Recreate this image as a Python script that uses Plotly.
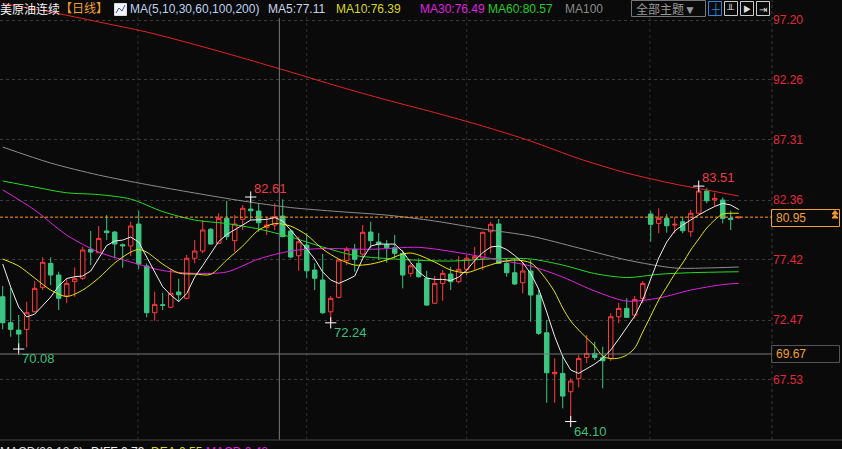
import plotly.graph_objects as go

# ---------------- data ----------------
opens = [74.39,72.25,71.64,71.70,73.15,75.16,77.14,76.18,74.45,75.63,
         75.91,78.30,78.02,79.81,79.72,78.68,78.57,80.38,76.92,73.07,
         73.73,73.52,74.78,74.26,77.56,78.16,79.95,78.79,80.85,79.01,
         80.77,81.62,81.45,80.11,80.30,81.04,79.81,77.77,78.65,76.59,
         75.77,73.15,74.34,77.36,78.30,77.91,79.72,78.90,78.68,78.43,
         77.97,76.32,77.14,75.91,73.85,75.49,76.26,75.63,76.65,77.50,
         77.56,79.75,80.38,77.14,76.37,75.54,76.51,74.53,71.42,68.04,
         68.07,66.56,67.66,69.39,69.72,69.36,69.31,72.74,73.43,72.88,
         74.26,81.21,80.44,80.85,80.30,80.57,79.75,81.27,83.10,82.36,
         82.36,80.85,80.90]
highs = [75.27,75.11,72.88,73.98,75.68,77.64,77.64,76.45,75.91,76.81,
         78.51,79.81,80.22,81.12,79.81,78.79,80.57,81.48,77.14,74.80,
         74.72,76.65,75.87,77.83,79.06,80.71,80.05,81.27,82.30,81.12,
         81.95,82.61,82.09,80.98,82.09,82.42,79.97,79.34,79.62,77.14,
         77.91,74.45,77.47,78.51,78.73,80.30,80.57,79.64,79.06,79.48,
         78.24,77.14,77.56,76.53,76.10,76.59,76.86,77.74,77.83,78.51,
         79.75,80.57,80.80,77.56,77.58,77.27,77.42,74.94,72.47,69.31,
         69.58,67.66,69.58,71.23,70.68,70.27,73.02,73.89,74.26,74.45,
         75.68,81.48,81.68,81.21,80.98,80.98,81.54,83.51,83.33,82.96,
         82.58,81.48,81.00]
lows = [71.70,71.09,70.08,70.22,73.10,74.94,75.35,73.29,73.85,74.39,
        75.77,77.00,77.97,79.06,77.56,76.78,77.74,76.65,72.69,72.41,
        73.29,73.45,73.95,74.17,77.14,77.97,78.70,78.73,79.06,78.10,
        79.89,80.71,79.75,79.48,79.89,79.30,77.56,76.53,75.91,74.94,
        72.96,72.24,74.26,77.00,76.45,77.56,78.38,77.42,77.19,77.56,
        75.08,76.04,75.95,73.66,73.80,74.06,74.94,75.49,76.18,76.59,
        76.59,77.97,77.10,76.04,75.35,74.67,72.33,71.23,65.65,65.65,
        65.19,64.10,66.92,68.90,69.17,66.84,69.10,72.20,72.65,72.61,
        73.85,78.92,79.62,79.67,79.62,79.62,79.34,81.20,82.09,81.87,
        80.44,79.89,80.85]
closes = [72.25,71.70,71.31,73.07,75.08,77.23,76.18,74.26,75.49,75.87,
          78.24,78.07,79.20,79.67,78.73,78.59,80.22,77.09,73.07,73.76,
          73.68,74.67,74.55,77.56,78.16,79.89,78.73,80.85,79.34,80.38,
          81.68,81.48,80.49,80.30,80.98,79.34,77.66,78.92,76.53,75.91,
          73.07,74.26,77.42,78.30,77.47,79.70,79.01,78.73,78.43,77.97,
          76.18,76.94,76.04,73.70,75.49,76.32,75.63,76.65,77.56,77.69,
          79.70,80.36,77.14,76.37,75.44,76.51,74.53,71.37,68.12,68.16,
          66.20,67.44,69.31,69.72,69.39,69.11,72.74,73.43,72.69,74.17,
          75.49,80.36,80.85,80.24,80.36,79.83,81.27,83.10,82.30,82.50,
          80.85,80.77,80.95]

ma5 = [77.09,75.19,73.54,72.72,72.96,73.62,74.36,75.27,75.89,76.04,
       76.10,76.51,77.58,78.61,78.98,79.06,79.31,78.90,77.66,76.43,
       75.21,74.53,73.99,74.65,76.01,76.96,77.99,78.94,79.52,79.89,
       80.30,80.71,80.74,80.76,80.92,80.63,79.89,79.15,78.32,77.50,
       76.43,75.77,75.49,75.77,76.10,77.54,78.57,78.73,78.73,78.73,
       78.12,77.21,76.43,75.93,75.82,75.82,75.73,76.01,76.59,77.37,
       78.02,78.49,78.57,78.28,77.79,77.21,76.30,75.02,73.13,71.11,
       69.46,68.35,68.07,68.43,68.84,69.34,70.00,70.90,71.85,72.80,
       74.12,75.93,77.58,78.90,79.81,80.30,80.75,81.13,81.50,81.83,
       82.09,81.95,81.58]

ma10_x = [0,2,4,6,8,10,12,14,16,17,18,20,22,24,26,28,30,32,34,36,38,40,42,44,46,48,
          50,51,52,54,56,58,60,62,64,66,67,68,69,70,71,72,73,74,75,76,77,78,79,80,
          81,82,83,84,85,86,87,88,89,90,91,92]
ma10 = [77.50,76.92,75.93,74.94,74.41,74.94,75.93,77.17,78.07,78.28,78.07,77.08,76.34,
        76.26,76.23,77.42,78.57,79.89,80.42,80.21,79.48,78.32,77.50,77.00,77.08,77.42,
        77.91,77.99,77.83,77.25,76.59,76.38,76.80,77.21,77.42,77.19,76.59,75.77,74.78,
        73.46,72.39,71.64,70.98,70.33,69.50,69.29,69.33,69.58,70.16,71.48,72.80,74.12,
        75.19,76.26,77.17,78.24,79.15,80.05,80.71,81.21,81.27,81.27]

ma30_x = [0,4,8,12,16,20,24,28,32,36,40,46,52,58,62,66,70,74,78,82,86,90,92]
ma30 = [83.19,81.54,79.47,78.07,77.25,76.55,76.32,76.43,77.50,78.16,78.36,78.30,
        78.46,77.91,77.42,76.92,76.01,74.86,74.03,74.28,74.94,75.39,75.49]

ma60_x = [0,4,8,12,16,20,24,28,32,36,40,44,50,56,62,66,70,74,78,82,86,92]
ma60 = [83.93,83.43,82.96,82.81,82.44,81.41,80.71,80.42,79.97,79.31,78.49,77.79,
        77.46,77.33,77.54,77.50,77.00,76.30,75.97,76.24,76.37,76.45]

ma100_x = [0,6,12,18,24,30,36,42,48,54,60,66,72,78,84,88,92]
ma100 = [86.73,85.41,84.42,83.64,82.94,82.28,81.74,81.41,81.12,80.63,79.97,79.39,
         78.41,77.42,76.76,76.76,76.84]

ma200_x = [0,6,12,18,24,30,36,42,48,54,60,66,72,78,84,88,92]
ma200 = [98.56,97.86,97.04,96.21,95.18,94.07,92.91,91.72,90.61,89.57,88.46,87.22,
         85.78,84.59,83.68,83.19,82.69]

axis_ticks = [97.20, 92.26, 87.31, 82.36, 77.42, 72.47, 67.53]
axis_ticktext = ["97.20", "92.26", "87.31", "82.36", "77.42", "72.47", "67.53"]

hi_idx = [31, 87]
hi_val = [82.61, 83.51]
lo_idx = [2, 41, 71]
lo_val = [70.08, 72.24, 64.10]

month_sep = [16.9, 38.0, 58.0, 80.9]
cross_idx = 34.58
cross_price = 69.67
last_price = closes[-1]

# ---------------- styles ----------------
BG = "#0a0a0a"
RED = "#ff3b3b"
GREEN = "#3cc682"
FONT = "Liberation Sans, Noto Sans CJK SC, sans-serif"
PLOT_W = 772.0
PLOT_H = 440.0

def px(x):
    return x / PLOT_W

def py(y):
    return (PLOT_H - y) / PLOT_H

idx = list(range(len(opens)))

fig = go.Figure()
fig.add_trace(go.Candlestick(
    x=idx, open=opens, high=highs, low=lows, close=closes,
    increasing=dict(line=dict(color=RED, width=1), fillcolor=BG),
    decreasing=dict(line=dict(color=GREEN, width=1), fillcolor=GREEN),
    whiskerwidth=0, hoverinfo="skip", showlegend=False))

def ma_line(xs, ys, color, shape="spline"):
    fig.add_trace(go.Scatter(x=xs, y=ys, mode="lines",
                             line=dict(color=color, width=1, shape=shape, smoothing=0.8),
                             hoverinfo="skip", showlegend=False))

ma_line(ma200_x, ma200, "#e62222")
ma_line(ma100_x, ma100, "#8c8c8c")
ma_line(ma60_x, ma60, "#22dd22")
ma_line(ma30_x, ma30, "#e020e0")
ma_line(ma10_x, ma10, "#e6e600")
ma_line(idx, ma5, "#eeeeee", shape="linear")

# extreme markers
fig.add_trace(go.Scatter(x=hi_idx + lo_idx, y=hi_val + lo_val, mode="markers",
                         marker=dict(symbol="cross-thin", size=8,
                                     line=dict(color="#ffffff", width=1)),
                         hoverinfo="skip", showlegend=False))

annotations = []
for i, v in zip(hi_idx, hi_val):
    annotations.append(dict(x=i, y=v, xref="x", yref="y", text=f"{v:.2f}",
                            showarrow=False, xanchor="left", yanchor="bottom",
                            xshift=1, yshift=-1,
                            font=dict(family=FONT, size=13, color="#f03a48")))
for i, v in zip(lo_idx, lo_val):
    annotations.append(dict(x=i, y=v, xref="x", yref="y", text=f"{v:.2f}",
                            showarrow=False, xanchor="left", yanchor="top",
                            xshift=1, yshift=0,
                            font=dict(family=FONT, size=13, color="#3cbf7e")))

def txt(x, y, s, color, size=12, anchor="left"):
    annotations.append(dict(x=px(x), y=py(y), xref="paper", yref="paper", text=s,
                            showarrow=False, xanchor=anchor, yanchor="middle",
                            font=dict(family=FONT, size=size, color=color)))

# header
txt(-2, 9, "美原油连续", "#f2f2f2")
txt(58, 9, "【日线】", "#f0a030")
txt(128, 9, "MA(5,10,30,60,100,200)", "#bcd2f0")
txt(266, 9, "MA5:77.11", "#c8d4e8")
txt(334, 9, "MA10:76.39", "#d8d820")
txt(418, 9, "MA30:76.49", "#e020e0")
txt(486, 9, "MA60:80.57", "#22cc22")
txt(563, 9, "MA100", "#8a8a8a")
txt(634, 9, "全部主题▼", "#9a9a9a")
txt(715, 9, "┼", "#2a88e0", size=11, anchor="center")
txt(730.5, 9, "╨", "#dddddd", size=10, anchor="center")
txt(746.5, 9, "▶", "#dddddd", size=8, anchor="center")
txt(763, 9, "⇥", "#dddddd", size=10, anchor="center")

# bottom (MACD header, cut off by the window edge as in the reference)
txt(-2, 452, "MACD(26,12,9)", "#dddddd")
txt(89, 452, "DIFF:0.79", "#eeeeee")
txt(149, 452, "DEA:0.55", "#d8d820")
txt(204, 452, "MACD:0.48", "#e020e0")

# price boxes
txt(774, 218, f"{last_price:.2f}", "#f0a030")
txt(774, 354, f"{cross_price:.2f}", "#f0a030")

shapes = []
for m in month_sep:
    shapes.append(dict(type="line", xref="x", yref="paper", x0=m, x1=m, y0=0, y1=1,
                       line=dict(color="#2e2e2e", width=1, dash="dot"), layer="below"))
shapes += [
    dict(type="line", xref="paper", yref="y", x0=0, x1=1, y0=last_price, y1=last_price,
         line=dict(color="#ff9a1a", width=1, dash="3px,2px"), layer="above"),
    dict(type="line", xref="paper", yref="y", x0=0, x1=1, y0=cross_price, y1=cross_price,
         line=dict(color="#7a7a7a", width=1), layer="above"),
    dict(type="line", xref="x", yref="paper", x0=cross_idx, x1=cross_idx, y0=0, y1=py(18),
         line=dict(color="#7a7a7a", width=1), layer="above"),
    dict(type="line", xref="paper", yref="paper", x0=0, x1=842 / PLOT_W, y0=0, y1=0,
         line=dict(color="#444444", width=1)),
    dict(type="line", xref="paper", yref="paper", x0=1, x1=1, y0=0, y1=1,
         line=dict(color="#3a3a3a", width=1, dash="dot")),
    dict(type="rect", xref="paper", yref="paper", x0=px(771.5), x1=px(839.5),
         y0=py(226.5), y1=py(209.5), line=dict(color="#f0a030", width=1), fillcolor="rgba(0,0,0,0)"),
    dict(type="rect", xref="paper", yref="paper", x0=px(771.5), x1=px(839.5),
         y0=py(362.5), y1=py(345.5), line=dict(color="#555555", width=1), fillcolor="rgba(0,0,0,0)"),
    # double up-arrow marker on the price box
    dict(type="path", xref="paper", yref="paper",
         path=f"M {px(832)} {py(214)} L {px(835)} {py(210.5)} L {px(838)} {py(214)} Z",
         line=dict(color="#f0a030", width=1), fillcolor="#f0a030"),
    dict(type="path", xref="paper", yref="paper",
         path=f"M {px(832)} {py(218)} L {px(835)} {py(214.5)} L {px(838)} {py(218)} Z",
         line=dict(color="#f0a030", width=1), fillcolor="#f0a030"),
    dict(type="rect", xref="paper", yref="paper", x0=px(631.5), x1=px(705.5),
         y0=py(16.5), y1=py(0.5), line=dict(color="#777777", width=1), fillcolor=BG),
    dict(type="rect", xref="paper", yref="paper", x0=px(708.5), x1=px(721.5),
         y0=py(15.5), y1=py(1.5), line=dict(color="#2a88e0", width=1), fillcolor=BG),
    dict(type="rect", xref="paper", yref="paper", x0=px(724.5), x1=px(737.5),
         y0=py(15.5), y1=py(1.5), line=dict(color="#cccccc", width=1), fillcolor=BG),
    dict(type="rect", xref="paper", yref="paper", x0=px(740.5), x1=px(753.5),
         y0=py(15.5), y1=py(1.5), line=dict(color="#cccccc", width=1), fillcolor=BG),
    dict(type="rect", xref="paper", yref="paper", x0=px(756.5), x1=px(769.5),
         y0=py(15.5), y1=py(1.5), line=dict(color="#cccccc", width=1), fillcolor=BG),
    dict(type="rect", xref="paper", yref="paper", x0=px(114.5), x1=px(126.5),
         y0=py(15.5), y1=py(3.5), line=dict(color="#dddddd", width=1), fillcolor="#f4f4ff"),
    dict(type="path", xref="paper", yref="paper",
         path=f"M {px(116)} {py(13)} L {px(119)} {py(8)} L {px(122)} {py(11)} L {px(125)} {py(5)}",
         line=dict(color="#3050d0", width=1)),
]

fig.update_layout(
    width=842, height=449, autosize=False,
    margin=dict(l=0, r=70, t=0, b=9, pad=0),
    paper_bgcolor=BG, plot_bgcolor=BG,
    showlegend=False, hovermode=False,
    boxgap=0.2,
    annotations=annotations, shapes=shapes,
    xaxis=dict(range=[-0.3375, 96.16], showgrid=False, zeroline=False,
               showticklabels=False, showline=False, fixedrange=True,
               rangeslider=dict(visible=False)),
    yaxis=dict(range=[62.58, 98.85], side="right", tickvals=axis_ticks,
               ticktext=axis_ticktext, showgrid=True, gridcolor="#3a3a3a",
               griddash="dot", gridwidth=1, zeroline=False, showline=False,
               ticks="", tickfont=dict(family=FONT, size=12, color="#e0283c"),
               fixedrange=True),
)

fig.write_html("out.html", config={"displayModeBar": False},
               post_script="document.body.style.margin='0';document.body.style.background='#0a0a0a';document.body.style.overflow='hidden';")
